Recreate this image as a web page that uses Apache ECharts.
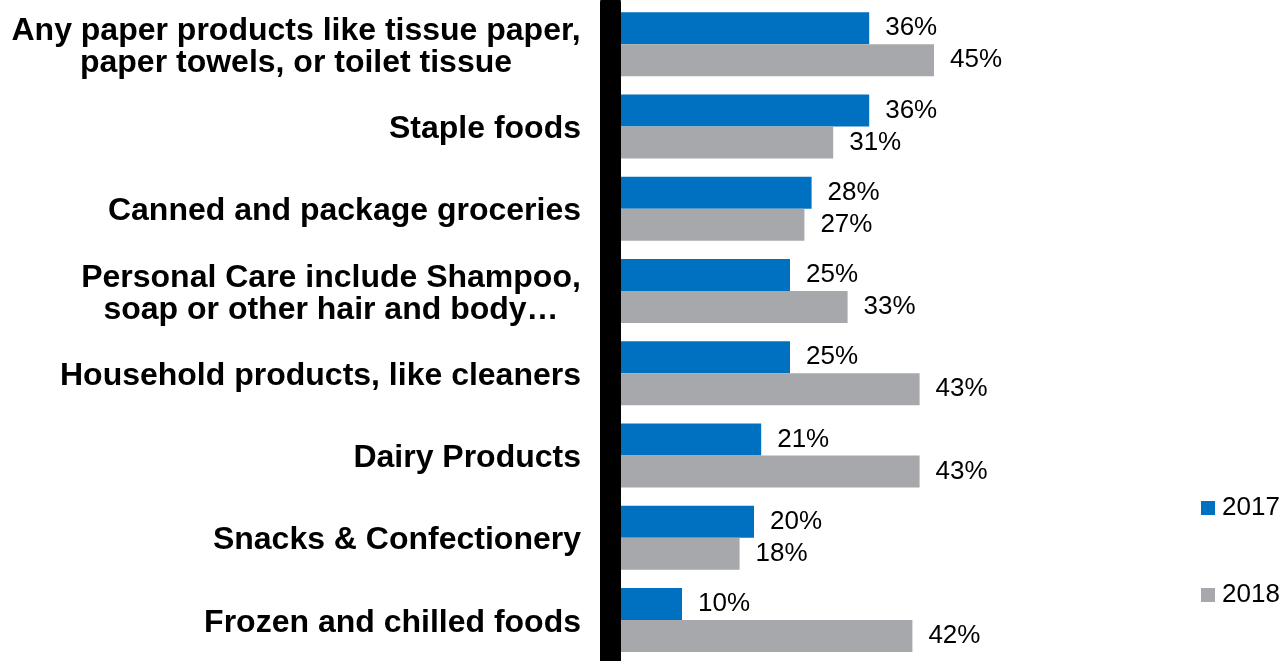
<!DOCTYPE html>
<html>
<head>
<meta charset="utf-8">
<script src="https://cdn.jsdelivr.net/npm/echarts@6/dist/echarts.min.js"></script>
<style>
html,body{margin:0;padding:0;background:#fff;}
#chart{width:1280px;height:661px;}
</style>
</head>
<body>
<div id="chart"></div>
<script>
const categories = [
  "Any paper products like tissue paper,\npaper towels, or toilet tissue",
  "Staple foods",
  "Canned and package groceries",
  "Personal Care include Shampoo,\nsoap or other hair and body…",
  "Household products, like cleaners",
  "Dairy Products",
  "Snacks & Confectionery",
  "Frozen and chilled foods"
];
const values2017 = [36, 36, 28, 25, 25, 21, 20, 10];
const values2018 = [45, 31, 27, 33, 43, 43, 18, 42];
const seriesNames = ["2017", "2018"];

const FONT = "'Liberation Sans', Arial, sans-serif";
const catFont = "bold 32px 'Liberation Sans', Arial, sans-serif";

// Measure label lines so multi-line labels are centred within their block
const cv = document.createElement('canvas').getContext('2d');
cv.font = catFont;
const rich = {};
categories.forEach((c, i) => {
  const lines = c.split('\n');
  const w = Math.max(...lines.map(l => cv.measureText(l).width));
  rich['c' + i] = {
    fontFamily: FONT, fontWeight: 'bold', fontSize: 32, lineHeight: 32,
    color: '#000', width: Math.ceil(w), align: lines.length > 1 ? 'center' : 'right',
    padding: [6, 0, 0, 0]
  };
});

const chart = echarts.init(document.getElementById('chart'), null, {renderer: 'canvas'});
chart.setOption({
  animation: false,
  backgroundColor: '#fff',
  grid: {left: 610, right: 238, top: 3, bottom: 0, containLabel: false},
  legend: {
    data: seriesNames,
    orient: 'vertical',
    left: 1201,
    top: 495,
    itemWidth: 14,
    itemHeight: 14,
    itemGap: 61,
    icon: 'rect',
    padding: 0,
    textStyle: {fontFamily: FONT, fontSize: 26, color: '#000', lineHeight: 26, padding: [0, 0, 0, 2]}
  },
  xAxis: {
    type: 'value', min: 0, max: 60, show: false
  },
  yAxis: {
    type: 'category',
    data: categories,
    inverse: true,
    z: 5,
    axisLine: {show: true, lineStyle: {color: '#000', width: 21}},
    axisTick: {show: false},
    splitLine: {show: false},
    axisLabel: {
      margin: 29,
      formatter: (val, idx) => val.split('\n').map(l => '{c' + idx + '|' + l + '}').join('\n'),
      rich: rich
    }
  },
  series: [
    {
      name: seriesNames[0], type: 'bar', data: values2017,
      barWidth: 32, barGap: '0%',
      itemStyle: {color: '#0070C0'},
      label: {show: true, position: 'right', distance: 16, formatter: '{c}%',
        fontFamily: FONT, fontSize: 26, color: '#000'}
    },
    {
      name: seriesNames[1], type: 'bar', data: values2018,
      barWidth: 32, barGap: '0%',
      itemStyle: {color: '#A7A8AB'},
      label: {show: true, position: 'right', distance: 16, formatter: '{c}%',
        fontFamily: FONT, fontSize: 26, color: '#000'}
    }
  ]
});
</script>
</body>
</html>
